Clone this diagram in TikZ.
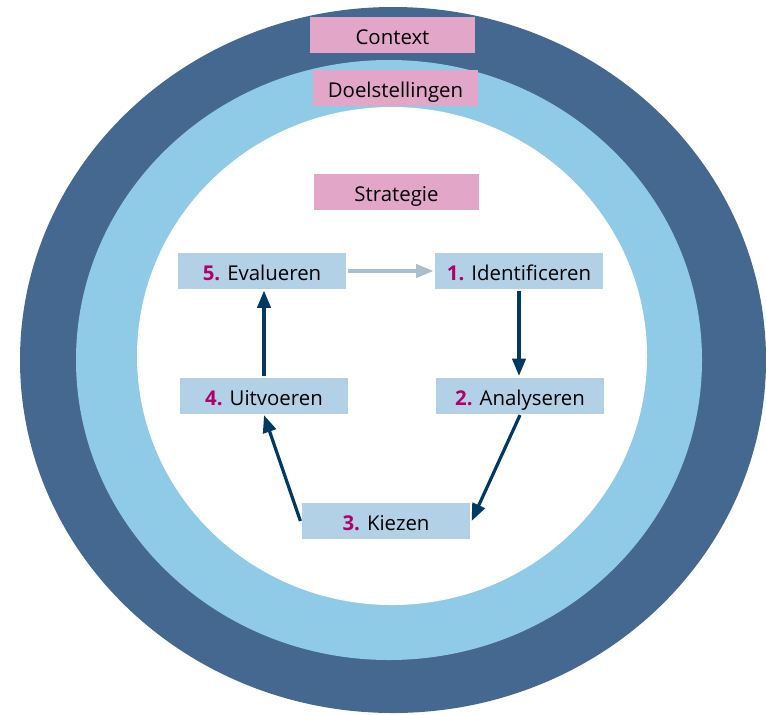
\documentclass[tikz,border=0pt]{standalone}
\usepackage{fontspec}
\setmainfont{Open Sans}
\usepackage{tikz}
\usetikzlibrary{arrows.meta}

\definecolor{ringdark}{HTML}{44688F}
\definecolor{ringlight}{HTML}{8FCAE6}
\definecolor{labelpink}{HTML}{E1A6C8}
\definecolor{stepblue}{HTML}{B3D1E6}
\definecolor{stepnum}{HTML}{B0006A}
\definecolor{flowdark}{HTML}{003A63}
\definecolor{flowlight}{HTML}{A9BFCF}

\begin{document}
\begin{tikzpicture}[x=0.75pt, y=-0.75pt, line width=2.4pt,
    labelbox/.style={fill=labelpink, minimum width=124pt, minimum height=27pt, inner sep=0pt,
      text height=14.5pt, text depth=0pt, font=\fontsize{15.3}{18}\selectfont},
    stepbox/.style={fill=stepblue, minimum width=126pt, minimum height=27pt, inner sep=0pt,
      text height=14.5pt, text depth=0pt, font=\fontsize{15.3}{18}\selectfont},
    flow/.style={draw=flowdark, -{Triangle[length=13pt, width=10pt]}}]
    \clip (0, 0) rectangle (766, 714);

    % draw the rings
    \fill[ringdark] (393, 360) ellipse [x radius=373, y radius=353];
    \fill[ringlight] (389, 360) ellipse [x radius=313, y radius=300];
    \fill[white] (392, 356) ellipse [x radius=255, y radius=249];

    % draw ring labels
    \node[labelbox] (context) at (392.5, 35) {Context};
    \node[labelbox] (doel) at (395.5, 87.5) {Doelstellingen};
    \node[labelbox] (strategie) at (396.5, 191.5) {Strategie};

    % draw the steps
    \node[stepbox] (ident) at (519, 271) {\textcolor{stepnum}{\textbf{1.}} Identificeren};
    \node[stepbox] (analy) at (520, 395.5) {\textcolor{stepnum}{\textbf{2.}} Analyseren};
    \node[stepbox] (kiezen) at (386, 521) {\textcolor{stepnum}{\textbf{3.}} Kiezen};
    \node[stepbox] (uitv) at (264, 395.5) {\textcolor{stepnum}{\textbf{4.}} Uitvoeren};
    \node[stepbox] (eval) at (262, 271) {\textcolor{stepnum}{\textbf{5.}} Evalueren};

    % draw the cycle
    \draw[flow] (ident.south) -- (analy.north -| ident.south);
    \draw[flow] (analy.south) -- (kiezen.east);
    \draw[flow] (kiezen.west) -- (uitv.south);
    \draw[flow] (uitv.north) -- (uitv.north |- eval.south);
    \draw[flow, draw=flowlight] (eval.east) -- (ident.west);

\end{tikzpicture}
\end{document}
